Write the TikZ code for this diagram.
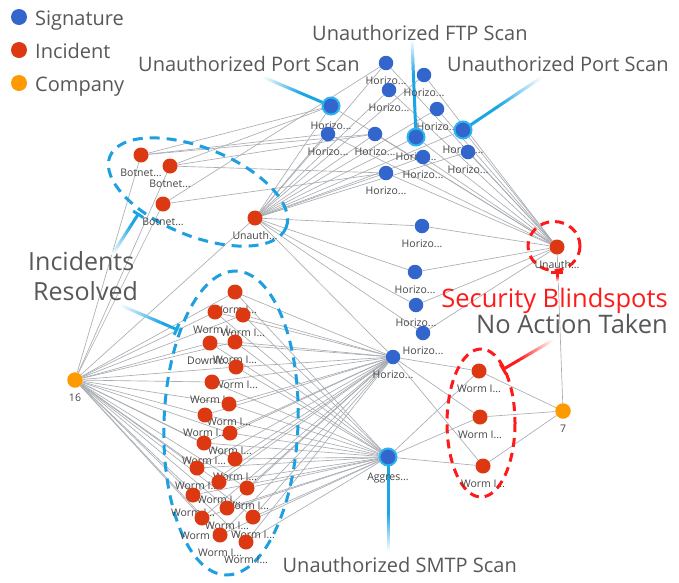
\documentclass[tikz,border=0pt]{standalone}
\usepackage{fontspec}
\setmainfont{Open Sans}
\usetikzlibrary{calc,arrows.meta}
\definecolor{sigblue}{HTML}{3366CC}
\definecolor{incred}{HTML}{DC3912}
\definecolor{comporange}{HTML}{FF9900}
\definecolor{ringcyan}{HTML}{2AB4F0}
\definecolor{ptrcyan}{HTML}{1AA6E4}
\definecolor{dashblue}{HTML}{1E9FE0}
\definecolor{edgegray}{HTML}{A9ADB2}
\definecolor{txtgray}{HTML}{585858}
\definecolor{lblgray}{HTML}{454545}
\definecolor{alertred}{HTML}{FF1A1A}
\pgfdeclarelayer{bg}
\pgfsetlayers{bg,main}
\newcommand{\fadeptr}[5]{%
  \draw[line width=3pt, draw=#3, #5] (#1) -- ($(#1)!#4!(#2)$);
  \foreach \k in {0,...,23}{%
    \pgfmathsetmacro{\ptrA}{#4+(1-#4)*\k/24}%
    \pgfmathsetmacro{\ptrB}{#4+(1-#4)*(\k+1)/24+0.004}%
    \pgfmathtruncatemacro{\ptrO}{100-100*(\k+0.5)/24}%
    \draw[line width=3pt, draw=#3!\ptrO!white] ($(#1)!\ptrA!(#2)$) -- ($(#1)!\ptrB!(#2)$);
  }%
}
\tikzset{
  sig/.style={circle, fill=sigblue, minimum size=14.5pt, inner sep=0pt},
  sigbig/.style={circle, fill=sigblue, draw=ringcyan, line width=2pt, minimum size=17pt, inner sep=0pt},
  inc/.style={circle, fill=incred, minimum size=15pt, inner sep=0pt},
  comp/.style={circle, fill=comporange, minimum size=15.5pt, inner sep=0pt},
  lbl/.style={font=\fontsize{10.5}{12}\selectfont, text=lblgray, inner sep=0pt},
  every label/.style={lbl},
  label distance=6pt,
  edge/.style={draw=edgegray, line width=0.65pt},
  bigtxt/.style={font=\fontsize{20}{24}\selectfont, text=txtgray, inner sep=0pt},
  hugetxt/.style={font=\fontsize{25.5}{30}\selectfont, text=txtgray, inner sep=0pt},
  bluedash/.style={draw=dashblue, line width=3pt, dash pattern=on 10pt off 7pt},
  reddash/.style={draw=alertred, line width=3pt, dash pattern=on 9pt off 6pt},
  barstart/.style={{Bar[width=12pt]}-},
  legdot/.style={circle, minimum size=16pt, inner sep=0pt}
}
\begin{document}
\begin{tikzpicture}[x=1pt, y=-1pt]
\useasboundingbox (0,0) rectangle (679,582);
% legend
\node[legdot, fill=sigblue] (lg1) at (19,17) {};
\node[legdot, fill=incred] (lg2) at (19,50) {};
\node[legdot, fill=comporange] (lg3) at (19,83) {};
\node[bigtxt, anchor=base west] (lt1) at (35,25) {Signature};
\node[bigtxt, anchor=base west] (lt2) at (35,58) {Incident};
\node[bigtxt, anchor=base west] (lt3) at (35,91) {Company};
% big labels
\node[bigtxt, anchor=base west] (tl1) at (138,71) {Unauthorized Port Scan};
\node[bigtxt, anchor=base west] (tl2) at (312,40) {Unauthorized FTP Scan};
\node[bigtxt, anchor=base west] (tl3) at (447,71) {Unauthorized Port Scan};
\node[bigtxt, anchor=base east] (tl4) at (517,572) {Unauthorized SMTP Scan};
\node[hugetxt, font=\fontsize{25}{30}\selectfont, anchor=base west] (ir1) at (28,270) {Incidents};
\node[hugetxt, font=\fontsize{25}{30}\selectfont, anchor=base west] (ir2) at (33,300) {Resolved};
\node[hugetxt, anchor=base east, text=alertred] (sb1) at (668,307) {Security Blindspots};
\node[hugetxt, anchor=base east] (sb2) at (668,333) {No Action Taken};
% signature nodes
\node[sig, label=below:Horizo...] (h1) at (386,63) {};
\node[sig, label=below:Horizo...] (h2) at (424,75) {};
\node[sig, label=below:Horizo...] (h3) at (389,90) {};
\node[sig, label=below:Horizo...] (h4) at (437,109) {};
\node[sigbig, label=below:Horizo...] (h5) at (331,106) {};
\node[sig, label=below:Horizo...] (h6) at (328,134) {};
\node[sig, label=below:Horizo...] (h7) at (375,134) {};
\node[sigbig, label=below:Horizo...] (h8) at (416,137) {};
\node[sigbig, label=below:Horizo...] (h9) at (463,130) {};
\node[sig, label=below:Horizo...] (h10) at (423,157) {};
\node[sig, label=below:Horizo...] (h11) at (468,152) {};
\node[sig, label=below:Horizo...] (h12) at (386,173) {};
\node[sig, label=below:Horizo...] (h13) at (422,226) {};
\node[sig, label=below:Horizo...] (h14) at (415,272) {};
\node[sig, label=below:Horizo...] (h15) at (416,305) {};
\node[sig, label=below:Horizo...] (h16) at (423,333) {};
\node[sig, label=below:Horizo...] (h17) at (393,357) {};
\node[sigbig, label=below:Aggres...] (agg) at (388,457) {};
% incident nodes
\node[inc, label=below:Botnet...] (b1) at (141,155) {};
\node[inc, label=below:Botnet...] (b2) at (170,166) {};
\node[inc, label=below:Botnet...] (b3) at (163,204) {};
\node[inc, label=below:Unauth...] (ua) at (255,218) {};
\node[inc, label=below:Unauth...] (ub) at (557,247) {};
\node[inc, label=below:Worm I...] (wr1) at (479,371) {};
\node[inc, label=below:Worm I...] (wr2) at (480,417) {};
\node[inc, label=below:Worm I...] (wr3) at (483,466) {};
\node[inc, label=below:Worm I...] (w1) at (235,292) {};
\node[inc, label=below:Worm I...] (w2) at (215,312) {};
\node[inc, label=below:Worm I...] (w3) at (243,315) {};
\node[inc, label=below:Downlo...] (w4) at (210,343) {};
\node[inc, label=below:Worm I...] (w5) at (235,342) {};
\node[inc, label=below:Worm I...] (w6) at (236,367) {};
\node[inc, label=below:Worm I...] (w7) at (212,382) {};
\node[inc, label=below:Worm I...] (w8) at (229,404) {};
\node[inc, label=below:Worm I...] (w9) at (205,415) {};
\node[inc, label=below:Worm I...] (w10) at (230,433) {};
\node[inc, label=below:Worm I...] (w11) at (204,443) {};
\node[inc, label=below:Worm I...] (w12) at (235,459) {};
\node[inc, label=below:Worm I...] (w13) at (197,468) {};
\node[inc, label=below:Worm I...] (w14) at (219,482) {};
\node[inc, label=below:Worm I...] (w15) at (247,488) {};
\node[inc, label=below:Worm I...] (w16) at (193,495) {};
\node[inc, label=below:Worm I...] (w17) at (227,508) {};
\node[inc, label=below:Worm I...] (w18) at (253,517) {};
\node[inc, label=below:Worm I...] (w19) at (202,518) {};
\node[inc, label=below:Worm I...] (w20) at (220,535) {};
\node[inc, label=below:Worm I...] (w21) at (246,542) {};
% companies
\node[comp, label=below:16] (c16) at (75,380) {};
\node[comp, label=below:7] (c7) at (563,411) {};
% pointer ends
\coordinate (pL) at (263,77);
\coordinate (pF) at (412,40);
\coordinate (pR) at (542,77);
\coordinate (pS) at (388,552);
\coordinate (ira) at (139,213);
\coordinate (irb) at (112,255);
\coordinate (irc) at (178,330);
\coordinate (ird) at (120,305);
\coordinate (sba) at (502,370);
\coordinate (sbb) at (553,340);
\coordinate (sbc) at (557,271);
\coordinate (sbd) at (557,282);
\coordinate (ellA) at (198,192);
\coordinate (ellB) at (231,423);
\coordinate (ellC) at (554,246);
\coordinate (ellD) at (481,423);
\begin{pgfonlayer}{bg}
\fill[white] (0,0) rectangle (679,582);
% edges
\foreach \i in {1,...,21} \draw[edge] (c16) -- (w\i);
\foreach \n in {b1,b2,b3,ua} \draw[edge] (c16) -- (\n);
\foreach \i in {1,...,21} {\draw[edge] (w\i) -- (h17); \draw[edge] (w\i) -- (agg);}
\foreach \i in {1,2,3} {\draw[edge] (wr\i) -- (h17); \draw[edge] (wr\i) -- (agg); \draw[edge] (wr\i) -- (c7);}
\draw[edge] (ub) -- (c7);
\foreach \i in {1,...,17} \draw[edge] (ua) -- (h\i);
\foreach \i in {1,...,16} \draw[edge] (ub) -- (h\i);
\foreach \n in {h5,h6,h7} \draw[edge] (b1) -- (\n);
\foreach \n in {h5,h7,h12} \draw[edge] (b2) -- (\n);
\foreach \n in {h1,h12} \draw[edge] (b3) -- (\n);
% ellipses
\draw[bluedash] (ellA) ellipse [x radius=95, y radius=44, rotate=-22];
\draw[bluedash] (ellB) ellipse [x radius=67, y radius=152, rotate=-2];
\draw[reddash] (ellC) ellipse [x radius=26, y radius=24.5];
\draw[reddash] (ellD) ellipse [x radius=34, y radius=74];
% pointers
\fadeptr{h5.center}{pL}{ptrcyan}{0.45}{}
\fadeptr{h8.center}{pF}{ptrcyan}{0.65}{}
\fadeptr{h9.center}{pR}{ptrcyan}{0.45}{}
\fadeptr{agg.center}{pS}{ptrcyan}{0.6}{}
\fadeptr{ira}{irb}{ptrcyan}{0.3}{barstart}
\fadeptr{irc}{ird}{ptrcyan}{0.3}{barstart}
\fadeptr{sba}{sbb}{alertred}{0.35}{barstart}
\fadeptr{sbc}{sbd}{alertred}{0.5}{barstart}
\end{pgfonlayer}
\end{tikzpicture}
\end{document}
